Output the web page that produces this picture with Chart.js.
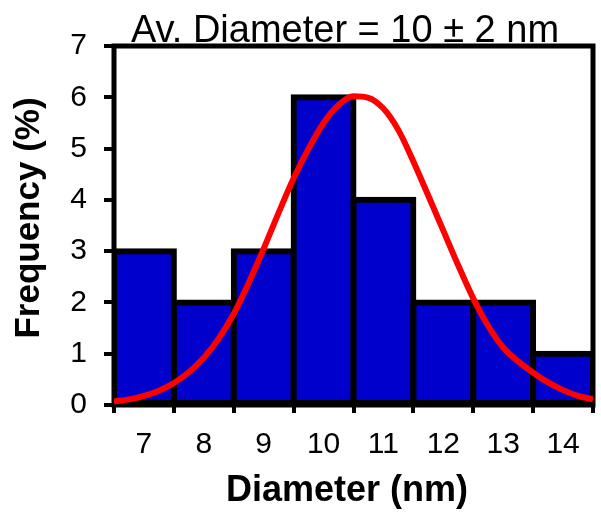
<!DOCTYPE html>
<html>
<head>
<meta charset="utf-8">
<script src="https://cdn.jsdelivr.net/npm/chart.js@4.4.1/dist/chart.umd.min.js"></script>
<style>
html,body{margin:0;padding:0;background:#fff;}
#wrap{width:601px;height:512px;position:relative;}
</style>
</head>
<body>
<div id="wrap"><canvas id="c" width="601" height="512"></canvas></div>
<script>
const titleText = 'Av. Diameter = 10 ± 2 nm';
const xTitle = 'Diameter (nm)';
const yTitle = 'Frequency (%)';
const categories = ['7', '8', '9', '10', '11', '12', '13', '14'];
const frequency = [3, 2, 3, 6, 4, 2, 2, 1];
const yTicks = [0, 1, 2, 3, 4, 5, 6, 7];
const fitX = [6.5, 6.75, 7.0, 7.25, 7.5, 7.75, 8.0, 8.25, 8.5, 8.75, 9.0, 9.25, 9.5, 9.75, 10.0, 10.25, 10.5,
              10.75, 11.0, 11.25, 11.5, 11.75, 12.0, 12.25, 12.5, 12.75, 13.0, 13.25, 13.5, 13.75, 14.0, 14.25, 14.5];
const fitY = [0.07, 0.11, 0.18, 0.28, 0.43, 0.64, 0.92, 1.3, 1.78, 2.38, 3.05, 3.75, 4.42, 5.0, 5.5, 5.85, 6.02,
              5.99, 5.78, 5.36, 4.75, 4.08, 3.4, 2.72, 2.08, 1.54, 1.12, 0.85, 0.63, 0.44, 0.29, 0.18, 0.11];

const FONT = '"Liberation Sans", Arial, sans-serif';

const framePlugin = {
  id: 'frame',
  beforeDatasetsDraw(chart) {
    const {ctx, chartArea: a} = chart;
    ctx.save();
    ctx.strokeStyle = '#000';
    ctx.lineWidth = 5;
    ctx.strokeRect(a.left, a.top, a.right - a.left, a.bottom - a.top);
    ctx.restore();
  },
  afterDraw(chart) {
    const {ctx} = chart;
    ctx.save();
    ctx.fillStyle = '#000';
    ctx.textAlign = 'center';
    ctx.font = '38px ' + FONT;
    ctx.textBaseline = 'alphabetic';
    ctx.fillText(titleText, 345, 42);
    ctx.font = 'bold 36px ' + FONT;
    ctx.textBaseline = 'middle';
    ctx.fillText(xTitle, 347, 491);
    ctx.translate(29, 218);
    ctx.rotate(-Math.PI / 2);
    ctx.font = 'bold 35px ' + FONT;
    ctx.fillText(yTitle, 0, 0);
    ctx.restore();
  }
};

new Chart(document.getElementById('c'), {
  data: {
    labels: categories,
    datasets: [
      {
        type: 'line',
        data: fitX.map((x, i) => ({x: x, y: fitY[i]})),
        xAxisID: 'xl',
        yAxisID: 'y',
        borderColor: '#ff0000',
        borderWidth: 6,
        pointRadius: 0,
        cubicInterpolationMode: 'monotone',
        fill: false,
        order: 0
      },
      {
        type: 'bar',
        data: frequency,
        xAxisID: 'x',
        yAxisID: 'y',
        backgroundColor: '#0000cc',
        borderColor: '#000000',
        borderWidth: 6,
        borderSkipped: false,
        inflateAmount: 3,
        barPercentage: 1,
        categoryPercentage: 1,
        grouped: false,
        order: 1
      }
    ]
  },
  options: {
    responsive: false,
    animation: false,
    devicePixelRatio: 1,
    layout: {padding: {top: 46, right: 8, bottom: 0, left: 0}},
    plugins: {legend: {display: false}, tooltip: {enabled: false}, title: {display: false}},
    scales: {
      x: {
        type: 'category',
        position: 'bottom',
        offset: true,
        border: {display: false},
        grid: {offset: true, drawOnChartArea: false, drawTicks: true, tickLength: 8, lineWidth: 4, tickColor: '#000', color: '#000'},
        ticks: {color: '#000', font: {family: FONT, size: 30}, padding: 14, maxRotation: 0, autoSkip: false},
        title: {display: false},
        afterFit(s) { s.height = 107; }
      },
      xl: {
        type: 'linear',
        display: false,
        min: 6.5,
        max: 14.5,
        offset: false
      },
      y: {
        type: 'linear',
        position: 'left',
        min: 0,
        max: 7,
        border: {display: false},
        afterBuildTicks(s) { s.ticks = yTicks.map(v => ({value: v})); },
        grid: {drawOnChartArea: false, drawTicks: true, tickLength: 10, lineWidth: 4, tickColor: '#000', color: '#000'},
        ticks: {color: '#000', font: {family: FONT, size: 30}, padding: 17},
        title: {display: false},
        afterFit(s) { s.width = 114; }
      }
    }
  },
  plugins: [framePlugin]
});
</script>
</body>
</html>
